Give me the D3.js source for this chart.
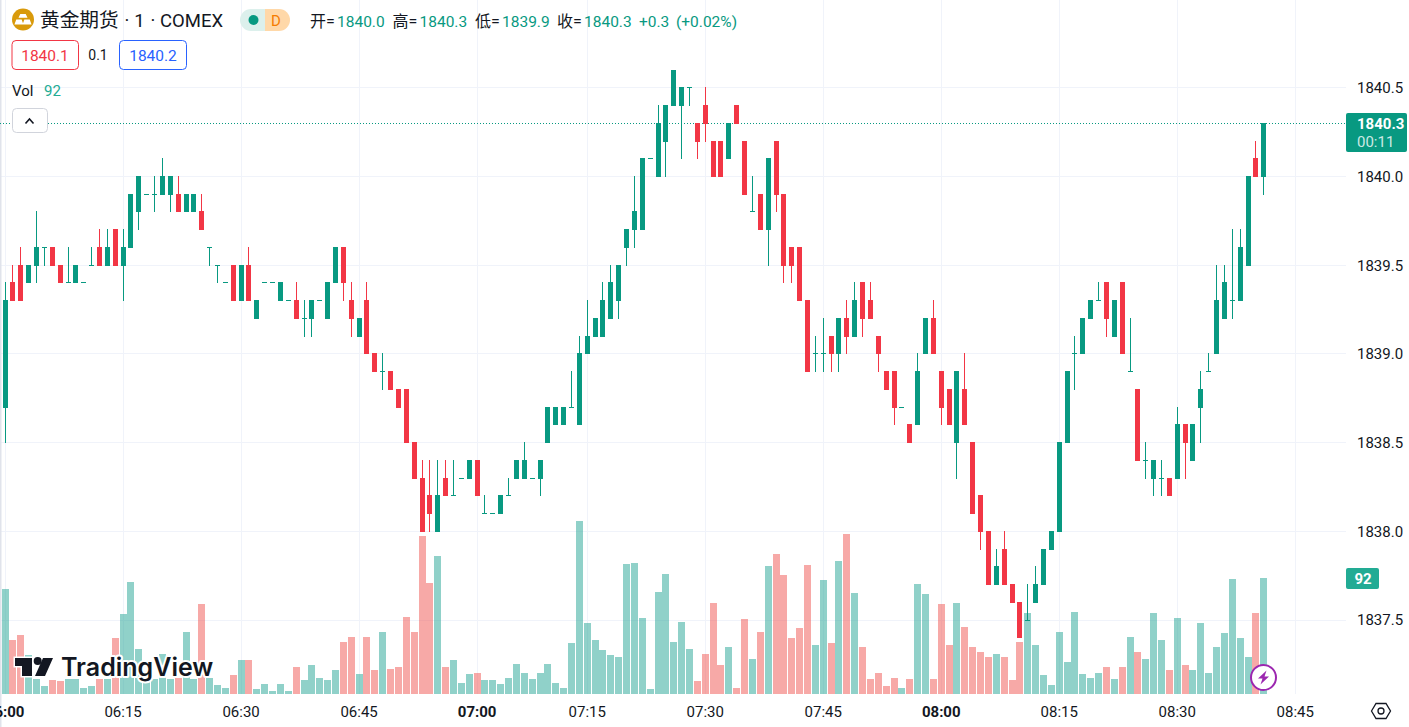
<!DOCTYPE html>
<html lang="zh-CN">
<head>
<meta charset="utf-8">
<title>黄金期货 1 COMEX</title>
<script src="https://d3js.org/d3.v7.min.js"></script>
<style>
html, body { margin: 0; padding: 0; background: #fff; overflow: hidden; }
svg { display: block; }
text { font-family: Roboto, "Noto Sans CJK SC", sans-serif; }
</style>
</head>
<body>
<script>
var opens = [
1838.7,1839.4,1839.5,1839.4,1839.5,1839.6,1839.6,1839.5,1839.4,1839.4,
1839.4,1839.5,1839.6,1839.5,1839.7,1839.5,1839.6,1839.8,1839.9,1839.9,
1839.9,1839.9,1839.9,1839.8,1839.8,1839.8,1839.6,1839.5,1839.4,1839.5,
1839.3,1839.5,1839.2,1839.4,1839.4,1839.3,1839.3,1839.3,1839.2,1839.2,
1839.3,1839.2,1839.4,1839.6,1839.3,1839.1,1839.3,1839.0,1838.9,1838.9,
1838.8,1838.8,1838.5,1838.3,1838.2,1838.0,1838.3,1838.2,1838.3,1838.3,
1838.4,1838.1,1838.1,1838.1,1838.2,1838.3,1838.3,1838.3,1838.3,1838.5,
1838.6,1838.6,1838.7,1838.6,1839.0,1839.1,1839.1,1839.2,1839.3,1839.6,
1839.7,1839.7,1840.1,1840.0,1840.2,1840.4,1840.4,1840.5,1840.3,1840.4,
1840.2,1840.2,1840.1,1840.4,1840.2,1839.8,1839.9,1839.7,1840.2,1839.9,
1839.6,1839.6,1839.3,1839.0,1839.0,1839.1,1839.0,1839.2,1839.1,1839.4,
1839.3,1839.1,1838.9,1838.9,1838.7,1838.6,1838.6,1839.0,1839.2,1838.9,
1838.8,1838.5,1838.8,1838.5,1838.2,1838.0,1837.7,1837.9,1837.7,1837.6,
1837.5,1837.6,1837.7,1837.9,1838.0,1838.5,1839.0,1839.0,1839.2,1839.3,
1839.4,1839.1,1839.4,1838.9,1838.8,1838.4,1838.3,1838.3,1838.3,1838.3,
1838.6,1838.4,1838.7,1838.9,1839.0,1839.2,1839.3,1839.3,1839.5,1840.1,
1840.0];
var highs = [
1839.4,1839.5,1839.6,1839.5,1839.8,1839.6,1839.6,1839.5,1839.6,1839.5,
1839.4,1839.6,1839.7,1839.7,1839.7,1839.7,1839.9,1840.0,1839.9,1840.0,
1840.1,1840.0,1840.0,1839.9,1839.9,1839.9,1839.6,1839.5,1839.4,1839.5,
1839.5,1839.6,1839.3,1839.4,1839.4,1839.4,1839.3,1839.4,1839.3,1839.3,
1839.3,1839.4,1839.6,1839.6,1839.4,1839.2,1839.4,1839.0,1839.0,1838.9,
1838.8,1838.8,1838.5,1838.4,1838.4,1838.4,1838.4,1838.4,1838.3,1838.4,
1838.4,1838.2,1838.1,1838.2,1838.3,1838.4,1838.5,1838.3,1838.4,1838.7,
1838.7,1838.7,1838.9,1839.1,1839.3,1839.2,1839.4,1839.5,1839.5,1839.7,
1840.0,1840.1,1840.1,1840.4,1840.4,1840.6,1840.5,1840.5,1840.3,1840.5,
1840.2,1840.2,1840.3,1840.4,1840.2,1840.0,1839.9,1840.1,1840.2,1839.9,
1839.6,1839.6,1839.3,1839.1,1839.2,1839.1,1839.2,1839.3,1839.4,1839.4,
1839.4,1839.1,1838.9,1838.9,1838.7,1838.6,1839.0,1839.2,1839.3,1838.9,
1838.8,1838.9,1839.0,1838.5,1838.2,1838.0,1837.9,1838.0,1837.7,1837.6,
1837.7,1837.8,1837.9,1838.0,1838.5,1838.9,1839.1,1839.2,1839.3,1839.4,
1839.4,1839.3,1839.4,1839.2,1838.8,1838.5,1838.4,1838.4,1838.3,1838.7,
1838.6,1838.6,1838.9,1839.0,1839.5,1839.5,1839.7,1839.7,1840.0,1840.2,
1840.3];
var lows = [
1838.5,1839.3,1839.3,1839.4,1839.4,1839.5,1839.5,1839.4,1839.4,1839.4,
1839.4,1839.5,1839.5,1839.5,1839.5,1839.3,1839.6,1839.7,1839.9,1839.8,
1839.9,1839.8,1839.8,1839.8,1839.8,1839.7,1839.5,1839.4,1839.4,1839.3,
1839.3,1839.3,1839.2,1839.4,1839.4,1839.3,1839.3,1839.2,1839.1,1839.1,
1839.3,1839.2,1839.4,1839.3,1839.1,1839.1,1839.0,1838.9,1838.8,1838.8,
1838.7,1838.5,1838.3,1838.0,1838.0,1838.0,1838.2,1838.2,1838.3,1838.3,
1838.2,1838.1,1838.1,1838.1,1838.2,1838.3,1838.3,1838.3,1838.2,1838.5,
1838.6,1838.6,1838.7,1838.6,1839.0,1839.1,1839.1,1839.2,1839.2,1839.5,
1839.6,1839.7,1840.1,1840.0,1840.0,1840.4,1840.1,1840.4,1840.1,1840.2,
1840.0,1840.0,1840.1,1840.3,1839.9,1839.8,1839.7,1839.5,1839.8,1839.4,
1839.4,1839.3,1838.9,1838.9,1838.9,1838.9,1838.9,1839.0,1839.1,1839.1,
1839.2,1838.9,1838.8,1838.6,1838.7,1838.5,1838.6,1839.0,1839.0,1838.6,
1838.6,1838.3,1838.6,1838.1,1837.9,1837.7,1837.7,1837.7,1837.6,1837.4,
1837.5,1837.6,1837.7,1837.9,1838.0,1838.5,1838.8,1839.0,1839.2,1839.3,
1839.1,1839.1,1839.0,1838.9,1838.4,1838.3,1838.2,1838.2,1838.2,1838.3,
1838.3,1838.4,1838.5,1838.9,1839.0,1839.2,1839.2,1839.3,1839.5,1840.0,
1839.9];
var closes = [
1839.3,1839.3,1839.3,1839.5,1839.6,1839.6,1839.5,1839.4,1839.4,1839.5,
1839.4,1839.5,1839.5,1839.6,1839.5,1839.6,1839.9,1840.0,1839.9,1839.9,
1840.0,1840.0,1839.8,1839.9,1839.9,1839.7,1839.6,1839.5,1839.4,1839.3,
1839.5,1839.3,1839.3,1839.4,1839.4,1839.4,1839.3,1839.2,1839.2,1839.3,
1839.3,1839.4,1839.6,1839.4,1839.2,1839.2,1839.0,1838.9,1838.9,1838.8,
1838.7,1838.5,1838.3,1838.0,1838.1,1838.2,1838.2,1838.2,1838.3,1838.4,
1838.2,1838.1,1838.1,1838.2,1838.2,1838.4,1838.4,1838.3,1838.4,1838.7,
1838.7,1838.7,1838.7,1839.0,1839.1,1839.2,1839.3,1839.4,1839.5,1839.7,
1839.8,1840.1,1840.1,1840.3,1840.4,1840.6,1840.5,1840.5,1840.2,1840.3,
1840.0,1840.0,1840.3,1840.3,1839.9,1839.8,1839.7,1840.1,1839.9,1839.5,
1839.5,1839.3,1838.9,1839.0,1839.0,1839.0,1839.2,1839.1,1839.3,1839.2,
1839.2,1839.0,1838.8,1838.7,1838.7,1838.5,1838.9,1839.2,1839.0,1838.7,
1838.6,1838.9,1838.6,1838.1,1838.0,1837.7,1837.8,1837.7,1837.6,1837.4,
1837.5,1837.7,1837.9,1838.0,1838.5,1838.9,1839.0,1839.2,1839.3,1839.3,
1839.2,1839.3,1839.0,1838.9,1838.4,1838.4,1838.4,1838.3,1838.2,1838.6,
1838.5,1838.6,1838.8,1838.9,1839.3,1839.4,1839.3,1839.6,1840.0,1840.0,
1840.3];
var volumes = [
83,43,47,31,12,6,11,10,12,12,
5,6,12,12,44,63,89,36,12,12,
32,12,13,49,12,71,13,7,5,15,
27,27,4,8,2,8,2,21,11,23,
13,11,19,41,45,16,45,19,49,20,
21,61,49,125,88,109,21,27,9,16,
17,11,11,8,13,24,17,12,17,24,
9,5,40,137,56,43,35,31,29,103,
104,60,4,81,95,41,57,36,10,32,
72,23,37,5,59,28,49,101,111,94,
44,52,102,39,90,40,105,127,80,37,
12,17,6,13,5,12,87,79,12,71,
39,72,53,37,33,29,32,29,11,41,
64,39,15,7,49,25,65,16,13,17,
21,12,21,45,33,28,64,43,19,60,
23,19,56,17,37,48,91,44,29,64,
92];
var priceTicks = [1840.5, 1840.0, 1839.5, 1839.0, 1838.5, 1838.0, 1837.5];
var timeIdx = [0, 15, 30, 45, 60, 74, 89, 104, 119, 134, 149, 164];
var timeLabels = ["06:00","06:15","06:30","06:45","07:00","07:15","07:30","07:45","08:00","08:15","08:30","08:45"];
var lastPrice = 1840.3, lastVolume = 92;

var green = "#089981", red = "#f23645", gridCol = "#f0f3fa", textCol = "#131722";
var volGreen = "#22a393", volRed = "#ef5350";
var W = 1409, H = 727, plotR = 1346, volBase = 694;

var svg = d3.select("body").append("svg").attr("width", W).attr("height", H);

var x = d3.scaleLinear().domain([0, 160]).range([4.6, 1263.3]);
var y = d3.scaleLinear().domain([1840, 1837.5]).range([176.5, 620]);
var yVol = d3.scaleLinear().domain([0, 137]).range([volBase, 521]);
var snap = function (v) { return Math.round(v); };
var snapY = function (v) { return Math.floor(v); };
var isUp = function (i) { return closes[i] >= opens[i]; };

// grid
svg.append("g").selectAll("line").data(timeIdx).enter().append("line")
    .attr("x1", function (d) { return snap(x(d)) + 0.5; })
    .attr("x2", function (d) { return snap(x(d)) + 0.5; })
    .attr("y1", 0).attr("y2", volBase)
    .attr("stroke", gridCol);
svg.append("g").selectAll("line").data(priceTicks).enter().append("line")
    .attr("x1", 0).attr("x2", plotR)
    .attr("y1", function (d) { return snapY(y(d)) + 0.5; })
    .attr("y2", function (d) { return snapY(y(d)) + 0.5; })
    .attr("stroke", gridCol);
svg.append("rect").attr("x", 0).attr("y", 0).attr("width", 1.5).attr("height", H).attr("fill", "#e0e3eb");

// volume bars
svg.append("g").selectAll("rect").data(volumes).enter().append("rect")
    .attr("x", function (d, i) { return snap(x(i)) - 3; })
    .attr("width", 7)
    .attr("y", function (d) { return snap(yVol(d)); })
    .attr("height", function (d) { return volBase - snap(yVol(d)); })
    .attr("fill", function (d, i) { return isUp(i) ? volGreen : volRed; })
    .attr("fill-opacity", 0.5);

// last price line
svg.append("line").attr("x1", 0).attr("x2", plotR)
    .attr("y1", snapY(y(lastPrice)) + 0.5).attr("y2", snapY(y(lastPrice)) + 0.5)
    .attr("stroke", green).attr("stroke-dasharray", "1 2");

// logo sits over the volume bars, under the candles
var logo = svg.append("g");
logo.append("text").attr("x", 61).attr("y", 675.5)
    .attr("font-size", 25).attr("font-weight", 600).attr("fill", textCol)
    .attr("stroke", "#fff").attr("stroke-width", 4).attr("paint-order", "stroke")
    .attr("stroke-linejoin", "round")
    .style("font-family", "Inter").text("TradingView");
logo.append("path")
    .attr("d", "M15 658H32V676H22V666H15Z M43 658H53L45 676H35Z")
    .attr("fill", textCol).attr("stroke", "#fff").attr("stroke-width", 3).attr("paint-order", "stroke");
logo.append("circle").attr("cx", 37.7).attr("cy", 661).attr("r", 4).attr("fill", textCol);

// candles
var candles = svg.append("g").selectAll("g").data(closes).enter().append("g")
    .attr("fill", function (d, i) { return isUp(i) ? green : red; });
candles.append("rect")
    .attr("x", function (d, i) { return snap(x(i)); })
    .attr("width", 1)
    .attr("y", function (d, i) { return snapY(y(highs[i])); })
    .attr("height", function (d, i) { return snapY(y(lows[i])) - snapY(y(highs[i])) + 1; });
candles.append("rect")
    .attr("x", function (d, i) { return snap(x(i)) - 2; })
    .attr("width", 5)
    .attr("y", function (d, i) { return snapY(y(Math.max(opens[i], d))); })
    .attr("height", function (d, i) { return snapY(y(Math.min(opens[i], d))) - snapY(y(Math.max(opens[i], d))) + 1; });

// price axis
var yAxis = svg.append("g").attr("transform", "translate(1350,0)")
    .call(d3.axisRight(y).tickValues(priceTicks).tickSize(0).tickPadding(7).tickFormat(d3.format(".1f")));
yAxis.select(".domain").remove();
yAxis.selectAll("text").attr("font-size", 15).attr("fill", textCol).style("font-family", "Roboto");

// time axis
var xAxis = svg.append("g").attr("transform", "translate(0,701)")
    .call(d3.axisBottom(x).tickValues(timeIdx).tickSize(0).tickPadding(5)
        .tickFormat(function (d) { return timeLabels[timeIdx.indexOf(d)]; }));
xAxis.select(".domain").remove();
xAxis.selectAll("text").attr("font-size", 15).attr("fill", textCol).style("font-family", "Roboto")
    .attr("font-weight", function (d) { return timeLabels[timeIdx.indexOf(d)].slice(-2) === "00" ? 700 : 400; });

// price labels on the axis
svg.append("rect").attr("x", plotR).attr("y", 113).attr("width", 61).attr("height", 39).attr("rx", 2).attr("fill", green);
svg.append("text").attr("x", 1357).attr("y", 129).attr("font-size", 15)
    .attr("font-weight", 700).attr("fill", "#fff").text(lastPrice.toFixed(1));
svg.append("text").attr("x", 1357).attr("y", 147).attr("font-size", 15)
    .attr("fill", "#fff").attr("fill-opacity", 0.8).text("00:11");
svg.append("rect").attr("x", plotR).attr("y", 568).attr("width", 33).attr("height", 21).attr("rx", 2).attr("fill", "#22ab94");
svg.append("text").attr("x", 1363).attr("y", 584).attr("text-anchor", "middle").attr("font-size", 15)
    .attr("font-weight", 700).attr("fill", "#fff").text(lastVolume);

// header
svg.append("circle").attr("cx", 23).attr("cy", 19.5).attr("r", 11).attr("fill", "#d99a0b");
svg.append("path").attr("d", "M20 13.5h6l2 4h-10Z M13.5 25l2-5.5h6l2 5.5Z M22.5 25l2-5.5h6l2 5.5Z")
    .attr("fill", "#fff").attr("transform", "translate(23,19.5) scale(.9) translate(-23,-19.5)");
svg.append("text").attr("x", 40).attr("y", 27).attr("font-size", 19.7).attr("fill", textCol).text("黄金期货");
svg.append("text").attr("x", 127).attr("y", 27).attr("text-anchor", "middle").attr("font-size", 18.5).attr("fill", textCol).text("·");
svg.append("text").attr("x", 139.5).attr("y", 27).attr("text-anchor", "middle").attr("font-size", 18.5).attr("fill", textCol).text("1");
svg.append("text").attr("x", 153).attr("y", 27).attr("text-anchor", "middle").attr("font-size", 18.5).attr("fill", textCol).text("·");
svg.append("text").attr("x", 160).attr("y", 27).attr("font-size", 18.5).attr("fill", textCol).text("COMEX");

svg.append("path").attr("d", "M251 9H265V31H251A11 11 0 0 1 251 9Z").attr("fill", "#dcf0ec");
svg.append("path").attr("d", "M265 9H279A11 11 0 0 1 279 31H265Z").attr("fill", "#ffd8a8");
svg.append("circle").attr("cx", 253.5).attr("cy", 20).attr("r", 5).attr("fill", green);
svg.append("text").attr("x", 276).attr("y", 25.5).attr("text-anchor", "middle").attr("font-size", 15).attr("fill", "#f57c00").text("D");

var ohlcKeys = ["开=", "高=", "低=", "收="];
var ohlcVals = ["1840.0", "1840.3", "1839.9", "1840.3"];
var ohlcX = [310, 392.5, 475, 557];
ohlcKeys.forEach(function (k, i) {
    svg.append("text").attr("x", ohlcX[i]).attr("y", 27).attr("font-size", 16).attr("fill", textCol).text(k);
    svg.append("text").attr("x", ohlcX[i] + 27).attr("y", 27).attr("font-size", 15.5).attr("fill", green).text(ohlcVals[i]);
});
svg.append("text").attr("x", 639).attr("y", 27).attr("font-size", 15.5).attr("fill", green).text("+0.3");
svg.append("text").attr("x", 676).attr("y", 27).attr("font-size", 15.5).attr("fill", green).text("(+0.02%)");

svg.append("rect").attr("x", 12).attr("y", 40.5).attr("width", 66.5).attr("height", 29).attr("rx", 4)
    .attr("fill", "#fff").attr("stroke", red);
svg.append("text").attr("x", 45).attr("y", 60.5).attr("text-anchor", "middle").attr("font-size", 15.5).attr("fill", red).text("1840.1");
svg.append("text").attr("x", 98).attr("y", 60).attr("text-anchor", "middle").attr("font-size", 14).attr("fill", textCol).text("0.1");
svg.append("rect").attr("x", 119.5).attr("y", 40.5).attr("width", 67).attr("height", 29).attr("rx", 4)
    .attr("fill", "#fff").attr("stroke", "#2962ff");
svg.append("text").attr("x", 153).attr("y", 60.5).attr("text-anchor", "middle").attr("font-size", 15.5).attr("fill", "#2962ff").text("1840.2");

svg.append("text").attr("x", 12).attr("y", 96).attr("font-size", 15).attr("fill", textCol).text("Vol");
svg.append("text").attr("x", 44).attr("y", 96).attr("font-size", 15).attr("fill", "#22ab94").text(lastVolume);

svg.append("rect").attr("x", 12.5).attr("y", 108.5).attr("width", 35).attr("height", 24).attr("rx", 4)
    .attr("fill", "#fff").attr("stroke", "#d1d4dc");
svg.append("path").attr("d", "M25.5 123.5L29.5 119L33.5 123.5").attr("fill", "none").attr("stroke", textCol).attr("stroke-width", 1.6);

// lightning badge
svg.append("circle").attr("cx", 1263.5).attr("cy", 677.5).attr("r", 12.5).attr("fill", "#fff").attr("stroke", "#9c27b0").attr("stroke-width", 2);
svg.append("path").attr("d", "M1266.5 670.5L1258 678.5H1262.5L1260.5 684.5L1269 676.5H1264.5Z").attr("fill", "#9c27b0");

// settings icon
svg.append("path").attr("d", "M1371.5 711L1376 703.5H1386L1390.5 711L1386 718.5H1376Z").attr("fill", "none").attr("stroke", textCol).attr("stroke-width", 1.3);
svg.append("circle").attr("cx", 1381).attr("cy", 711).attr("r", 3).attr("fill", "none").attr("stroke", textCol).attr("stroke-width", 1.3);
</script>
</body>
</html>
